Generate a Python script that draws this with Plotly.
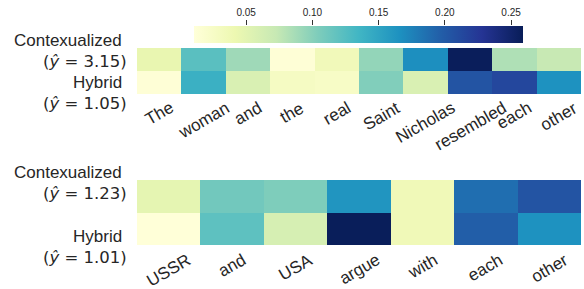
import plotly.graph_objects as go

W, H = 584, 289

# ---- data ----
words_top = ["The", "woman", "and", "the", "real", "Saint", "Nicholas", "resembled", "each", "other"]
ctx_top = [0.045, 0.122, 0.090, 0.013, 0.035, 0.095, 0.167, 0.257, 0.083, 0.072]
hyb_top = [0.013, 0.140, 0.058, 0.028, 0.025, 0.103, 0.058, 0.204, 0.214, 0.165]
yhat_top = ["3.15", "1.05"]

words_bot = ["USSR", "and", "USA", "argue", "with", "each", "other"]
ctx_bot = [0.048, 0.110, 0.104, 0.162, 0.036, 0.187, 0.204]
hyb_bot = [0.011, 0.120, 0.060, 0.258, 0.036, 0.197, 0.165]
yhat_bot = ["1.23", "1.01"]

row_names = ["Contexualized", "Hybrid"]
zmin, zmax = 0.0106, 0.2588
cbar_ticks = [0.05, 0.10, 0.15, 0.20, 0.25]

ylgnbu = ['rgb(255,255,217)', 'rgb(237,248,177)', 'rgb(199,233,180)', 'rgb(127,205,187)',
          'rgb(65,182,196)', 'rgb(29,145,192)', 'rgb(34,94,168)', 'rgb(37,52,148)', 'rgb(8,29,88)']
cscale = [[i / (len(ylgnbu) - 1), c] for i, c in enumerate(ylgnbu)]

def py(px):
    return 1 - px / H

def pxx(px):
    return px / W

TXT = '#262626'
CB_X0, CB_X1, CB_Y0, CB_Y1 = 194, 522.7, 26, 43

fig = go.Figure()

fig.add_trace(go.Heatmap(
    z=[ctx_top, hyb_top], x=list(range(len(words_top))), y=[0, 1],
    colorscale=cscale, zmin=zmin, zmax=zmax, xaxis='x', yaxis='y',
    colorbar=dict(orientation='h', x=pxx((CB_X0 + CB_X1) / 2), xanchor='center',
                  len=(CB_X1 - CB_X0) / W, lenmode='fraction',
                  thickness=CB_Y1 - CB_Y0, y=py(CB_Y1), yanchor='bottom', outlinewidth=0,
                  xpad=0, ypad=0, ticks='', showticklabels=False),
    hoverinfo='skip'))

fig.add_trace(go.Heatmap(
    z=[ctx_bot, hyb_bot], x=list(range(len(words_bot))), y=[0, 1],
    colorscale=cscale, zmin=zmin, zmax=zmax, xaxis='x2', yaxis='y2',
    showscale=False, hoverinfo='skip'))

# invisible trace that carries the colorbar's top tick axis
fig.add_trace(go.Scatter(x=[zmin, zmax], y=[0, 0], mode='markers', marker=dict(opacity=0),
                         xaxis='x3', yaxis='y3', hoverinfo='skip', showlegend=False))

ann = []
word_font = dict(family='Liberation Sans', size=17, color=TXT)
for i, w in enumerate(words_top):
    ann.append(dict(x=i, y=py(97), xref='x', yref='paper', text=w, textangle=-30,
                    showarrow=False, xanchor='center', yanchor='top', font=word_font,
                    borderpad=0))
for i, w in enumerate(words_bot):
    ann.append(dict(x=i, y=py(249), xref='x2', yref='paper', text=w, textangle=-30,
                    showarrow=False, xanchor='center', yanchor='top', font=word_font,
                    borderpad=0))

lab_font = dict(family='Liberation Sans', size=17, color=TXT)
math_font = dict(family='DejaVu Sans', size=16.5, color=TXT)
def add_labels(ys, yh):
    for k in range(2):
        ann.append(dict(x=pxx(124), y=py(ys[2 * k]), xref='paper', yref='paper', text=row_names[k],
                        showarrow=False, xanchor='right', yanchor='middle', font=lab_font))
        ann.append(dict(x=pxx(129), y=py(ys[2 * k + 1]), xref='paper', yref='paper',
                        text='(<i>ŷ</i> = ' + yh[k] + ')',
                        showarrow=False, xanchor='right', yanchor='middle', font=math_font))

add_labels([40, 62, 82, 104], yhat_top)
add_labels([172, 193, 236, 257], yhat_bot)

ax_common = dict(showticklabels=False, showgrid=False, zeroline=False, ticks='')
fig.update_layout(
    width=W, height=H, margin=dict(l=0, r=0, t=0, b=0, autoexpand=False),
    paper_bgcolor='white', plot_bgcolor='rgba(0,0,0,0)',
    xaxis=dict(domain=[pxx(137), pxx(581)], range=[-0.5, len(words_top) - 0.5], anchor='y', **ax_common),
    yaxis=dict(domain=[py(94), py(48)], range=[1.5, -0.5], anchor='x', **ax_common),
    xaxis2=dict(domain=[pxx(137), pxx(581)], range=[-0.5, len(words_bot) - 0.5], anchor='y2', **ax_common),
    yaxis2=dict(domain=[py(245), py(180)], range=[1.5, -0.5], anchor='x2', **ax_common),
    xaxis3=dict(domain=[pxx(CB_X0), pxx(CB_X1)], range=[zmin, zmax], anchor='y3', side='top',
                showgrid=False, zeroline=False, showline=False, ticks='outside', ticklen=5,
                tickwidth=1, tickcolor='#333', tickvals=cbar_ticks, tickformat='.2f',
                tickfont=dict(family='Liberation Sans', size=10, color=TXT), fixedrange=True),
    yaxis3=dict(domain=[py(CB_Y1), py(CB_Y0)], range=[0, 1], anchor='x3', visible=False,
                fixedrange=True),
    annotations=ann,
)

fig.write_html("out.html", config={'displayModeBar': False},
               post_script="document.body.style.margin='0';document.body.style.overflow='hidden';")
